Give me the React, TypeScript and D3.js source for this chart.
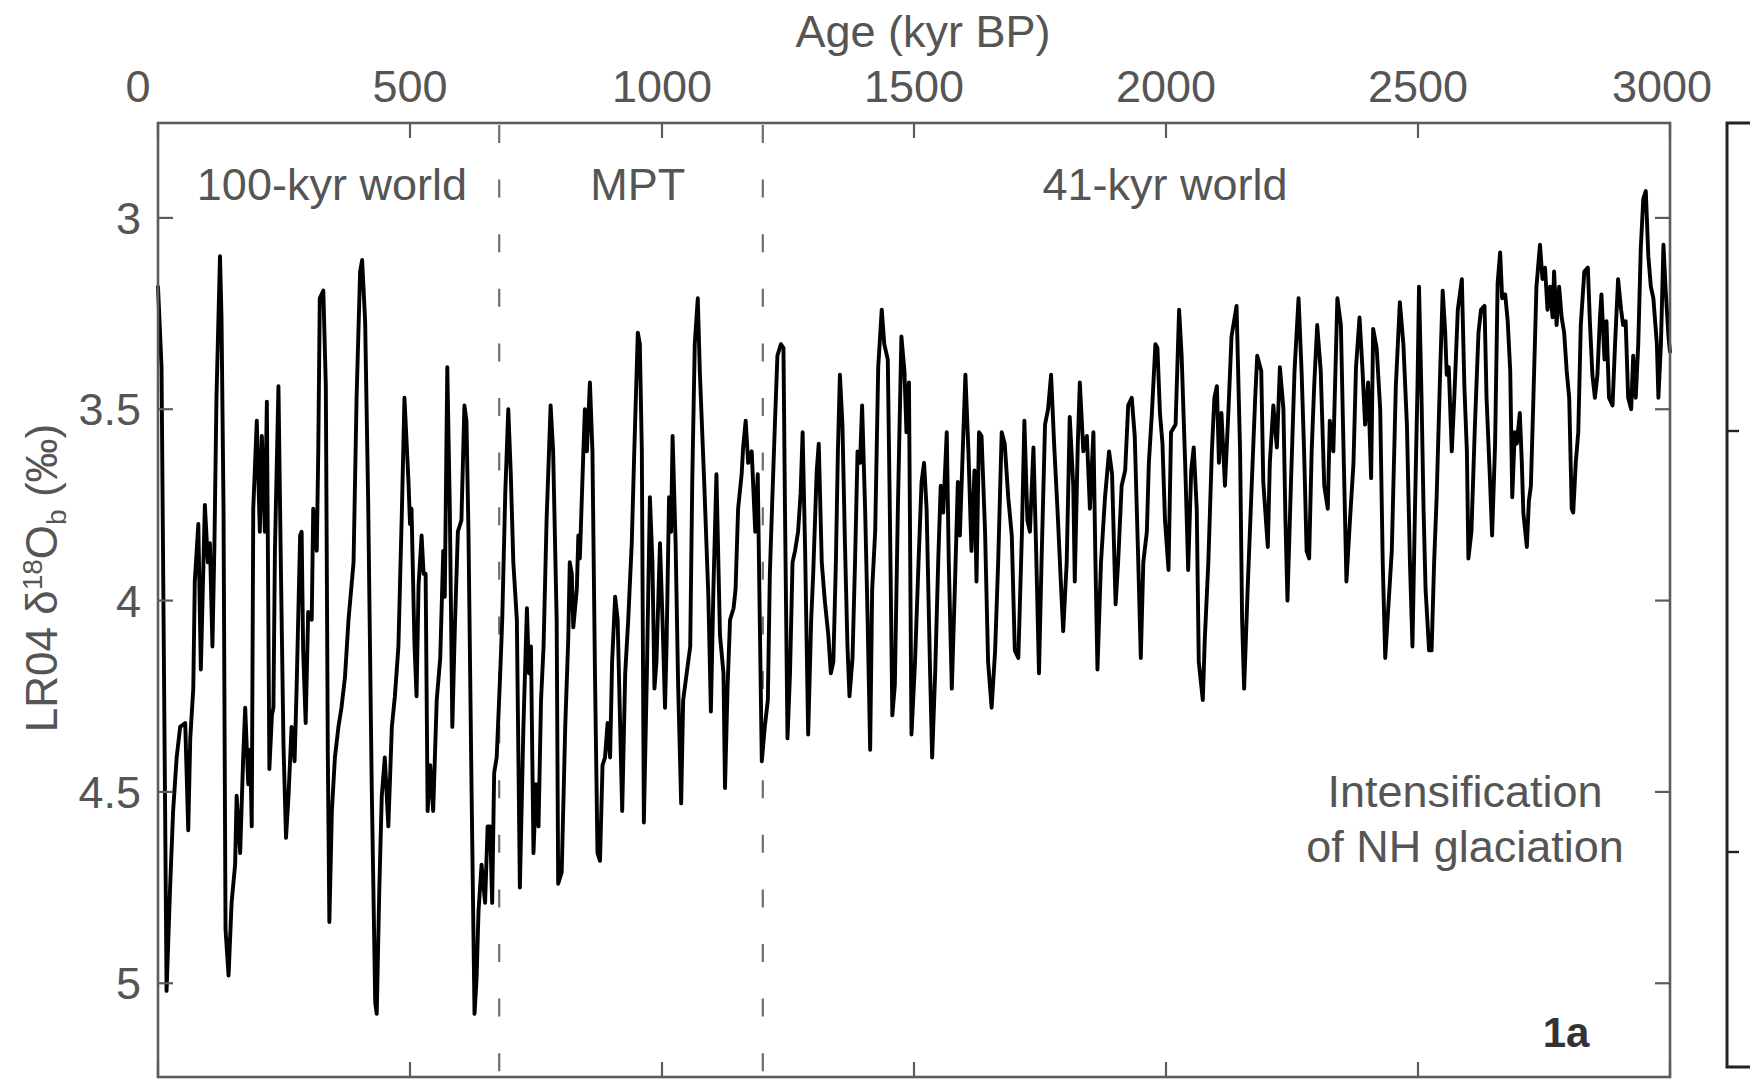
import React from "react";
import * as d3 from "d3";

// ---- Data (age in kyr BP, LR04 benthic δ18O in ‰) ----
const segment100kyr: [number, number][] = [
  [0,3.18],[7,3.39],[17,5.02],[24,4.75],[30,4.55],[37,4.41],[44,4.33],[54,4.32],[60,4.60],[64,4.36],[70,4.23],[73,3.95],[80,3.80],[85,4.18],[93,3.75],[99,3.90],[103,3.85],[108,4.12],[112,3.85],[116,3.47],[123,3.10],[126,3.26],[130,3.76],[134,4.86],[140,4.98],[146,4.79],[153,4.69],[156,4.51],[163,4.66],[169,4.41],[173,4.28],[179,4.48],[183,4.39],[186,4.59],[189,3.76],[196,3.53],[202,3.82],[206,3.57],[212,3.82],[216,3.48],[221,4.44],[226,4.30],[229,4.28],[232,3.87],[239,3.44],[244,3.93],[249,4.38],[254,4.62],[259,4.51],[265,4.33],[271,4.42],[275,4.23],[282,3.83],[285,3.82],[288,4.13],[293,4.32],[298,4.03],[305,4.05],[308,3.76],[315,3.87],[318,3.61],[321,3.21],[328,3.19],[333,3.44],[337,4.41],[340,4.84],[345,4.55],[351,4.41],[358,4.33],[364,4.28],[371,4.20],[378,4.05],[388,3.90],[394,3.47],[401,3.14],[405,3.11],[411,3.27],[417,3.74],[424,4.48],[431,5.05],[434,5.08],[439,4.76],[444,4.51],[450,4.41],[457,4.59],[464,4.33],[470,4.25],[477,4.12],[484,3.76],[489,3.47],[497,3.69],[500,3.80],[503,3.76],[509,4.12],[513,4.25],[517,3.96],[523,3.83],[527,3.93],[531,3.93],[535,4.55],[540,4.43],[546,4.55],[553,4.26],[560,4.15],[566,3.87],[569,3.99],[574,3.39],[579,3.76],[584,4.33],[589,4.07],[595,3.82],[602,3.79],[608,3.49],[612,3.53],[616,3.82],[622,4.48],[628,5.08],[632,4.99],[636,4.81],[642,4.69],[649,4.79],[654,4.59],[659,4.59],[663,4.79],[667,4.45],[672,4.41]
];

const segmentMPT: [number, number][] = [
  [679,4.19],[683,4.05],[689,3.72],[695,3.50],[700,3.67],[705,3.90],[712,4.05],[718,4.75],[725,4.33],[732,4.02],[736,4.19],[740,4.12],[745,4.66],[750,4.48],[755,4.59],[760,4.26],[765,4.12],[771,3.79],[779,3.49],[784,3.61],[791,4.05],[794,4.74],[801,4.71],[808,4.33],[814,4.10],[817,3.90],[821,3.93],[824,4.07],[831,3.97],[834,3.83],[837,3.89],[844,3.61],[847,3.50],[851,3.61],[857,3.43],[862,3.61],[867,4.19],[872,4.66],[877,4.68],[882,4.43],[887,4.41],[892,4.32],[897,4.41],[901,4.16],[907,3.99],[912,4.05],[917,4.33],[921,4.55],[927,4.19],[933,4.05],[940,3.85],[945,3.61],[952,3.30],[956,3.33],[960,3.61],[964,4.58],[970,4.19],[976,3.73],[981,3.90],[985,4.23],[989,4.16],[996,3.85],[1001,4.05],[1006,4.28],[1009,4.12],[1014,3.73],[1018,3.82],[1021,3.57],[1027,3.85],[1032,4.22],[1038,4.53],[1042,4.26],[1049,4.19],[1056,4.12],[1060,3.69],[1065,3.33],[1071,3.21],[1075,3.40],[1084,3.70],[1092,3.99],[1097,4.29],[1102,3.97],[1108,3.67],[1115,4.09],[1122,4.19],[1125,4.49],[1130,4.23],[1135,4.05],[1142,4.02],[1146,3.97],[1151,3.76],[1158,3.67],[1161,3.60],[1166,3.53],[1171,3.64],[1178,3.61],[1185,3.82],[1190,3.67],[1194,4.05],[1198,4.42]
];

const segment41kyr: [number, number][] = [
  [1204,4.33],[1210,4.26],[1214,3.93],[1219,3.73],[1224,3.54],[1229,3.36],[1236,3.33],[1241,3.34],[1244,3.76],[1249,4.36],[1254,4.19],[1259,3.90],[1264,3.87],[1270,3.82],[1275,3.72],[1279,3.56],[1284,3.87],[1290,4.35],[1296,4.05],[1300,3.93],[1307,3.66],[1311,3.59],[1317,3.90],[1323,4.00],[1330,4.09],[1335,4.19],[1340,4.16],[1345,3.90],[1349,3.61],[1353,3.41],[1358,3.54],[1363,3.85],[1368,4.12],[1372,4.25],[1378,4.15],[1383,3.90],[1388,3.61],[1393,3.64],[1397,3.49],[1403,3.76],[1408,4.05],[1413,4.39],[1417,3.97],[1423,3.82],[1429,3.39],[1436,3.24],[1441,3.33],[1448,3.37],[1452,3.76],[1457,4.30],[1462,4.22],[1468,3.76],[1475,3.31],[1481,3.40],[1485,3.56],[1490,3.43],[1495,4.35],
  [1502,4.16],[1509,3.90],[1515,3.69],[1520,3.64],[1525,3.76],[1532,4.19],[1536,4.41],[1542,4.19],[1548,3.90],[1553,3.70],[1558,3.77],[1565,3.56],[1569,3.90],[1575,4.23],[1581,3.97],[1587,3.69],[1591,3.83],[1598,3.56],[1602,3.41],[1608,3.61],[1614,3.87],[1620,3.66],[1624,3.95],[1629,3.56],[1634,3.57],[1641,3.82],[1647,4.16],[1654,4.28],[1661,4.13],[1667,3.90],[1674,3.56],[1680,3.59],[1687,3.73],[1694,3.83],[1700,4.13],[1707,4.15],[1714,3.83],[1719,3.53],[1725,3.79],[1730,3.82],[1737,3.60],[1742,3.85],[1748,4.19],[1753,3.90],[1760,3.54],[1766,3.50],[1772,3.41],[1778,3.59],[1785,3.77],[1792,3.97],[1796,4.08],[1803,3.90],[1809,3.52],[1816,3.70],[1819,3.95],[1825,3.59],[1829,3.43],[1836,3.61],[1843,3.57],[1849,3.76],[1856,3.56],[1860,3.90],[1864,4.18],[1871,3.90],[1879,3.73],[1887,3.61],[1893,3.67],[1900,4.01],[1905,3.90],[1912,3.70],[1919,3.66],[1925,3.49],[1932,3.47],[1938,3.57],[1945,3.90],[1950,4.15],[1955,3.90],[1962,3.82],[1966,3.64],[1972,3.51],[1979,3.33],
  [1983,3.34],[1988,3.51],[1993,3.59],[1998,3.79],[2005,3.92],[2010,3.56],[2019,3.54],[2026,3.24],[2031,3.36],[2038,3.64],[2044,3.92],[2050,3.66],[2055,3.60],[2061,3.76],[2065,4.16],[2073,4.26],[2077,4.10],[2084,3.90],[2091,3.61],[2096,3.47],[2101,3.44],[2105,3.64],[2110,3.51],[2117,3.70],[2124,3.50],[2130,3.31],[2140,3.23],[2147,3.61],[2151,4.05],[2155,4.23],[2162,3.97],[2170,3.70],[2177,3.47],[2181,3.36],[2189,3.40],[2193,3.69],[2202,3.86],[2206,3.64],[2213,3.49],[2220,3.60],[2226,3.39],[2233,3.50],[2237,3.79],[2241,4.00],[2248,3.69],[2255,3.40],[2263,3.21],[2269,3.40],[2274,3.61],[2279,3.87],[2284,3.89],[2289,3.61],[2294,3.44],[2300,3.28],[2307,3.40],[2314,3.70],[2321,3.76],[2325,3.53],[2332,3.61],[2340,3.21],[2347,3.28],[2352,3.59],[2358,3.95],[2365,3.79],[2372,3.64],[2377,3.39],[2384,3.26],[2390,3.40],[2395,3.54],[2401,3.43],[2407,3.68],[2411,3.29],[2418,3.34],[2425,3.50],[2430,3.90],[2435,4.15],[2441,4.02],[2448,3.87],[2456,3.44],[2464,3.22],[2471,3.33],[2478,3.54],[2484,3.90],[2489,4.12],
  [2494,3.76],[2499,3.44],[2502,3.18],[2507,3.47],[2511,3.76],[2515,3.97],[2522,4.13],[2527,4.13],[2532,3.90],[2537,3.73],[2544,3.40],[2549,3.19],[2554,3.30],[2557,3.41],[2561,3.39],[2567,3.61],[2572,3.47],[2579,3.24],[2587,3.16],[2592,3.44],[2597,3.61],[2600,3.89],[2606,3.82],[2613,3.54],[2620,3.30],[2625,3.24],[2632,3.23],[2636,3.47],[2643,3.69],[2647,3.83],[2653,3.59],[2658,3.17],[2663,3.09],[2667,3.21],[2673,3.20],[2678,3.27],[2683,3.40],[2687,3.73],[2692,3.56],[2696,3.59],[2702,3.51],[2706,3.64],[2709,3.77],[2716,3.86],[2720,3.74],[2724,3.70],[2729,3.47],[2735,3.18],[2742,3.07],[2747,3.16],[2752,3.13],[2757,3.24],[2762,3.18],[2767,3.26],[2770,3.14],[2775,3.28],[2780,3.18],[2785,3.26],[2790,3.30],[2795,3.40],[2800,3.47],[2805,3.76],[2808,3.77],[2813,3.64],[2818,3.56],[2823,3.28],[2830,3.14],[2837,3.13],[2841,3.27],[2846,3.41],[2851,3.47],[2856,3.41],[2861,3.26],[2864,3.20],[2870,3.37],[2874,3.27],[2879,3.47],[2886,3.49],[2891,3.33],[2897,3.16],[2903,3.24],[2907,3.28],[2912,3.27],[2917,3.47],[2923,3.50],[2927,3.36],[2932,3.47],[2937,3.33],[2942,3.08],[2947,2.95],[2952,2.93],[2957,3.10],[2962,3.18],[2967,3.21],[2974,3.33],[2977,3.47],[2982,3.33],[2987,3.07],[2991,3.18],[2997,3.31],[3000,3.35]
];

const xTicks = [0, 500, 1000, 1500, 2000, 2500, 3000];
const yTicks = [3, 3.5, 4, 4.5, 5];
const regimeBoundaries = [677, 1200];
const regimeLabels = [
  { text: "100-kyr world", age: 345 },
  { text: "MPT", age: 952 },
  { text: "41-kyr world", age: 1998 },
];
const neighbourTicksY = [431, 852];

const W = 1750;
const H = 1081;
const left = 158, right = 1670, top = 123, bottom = 1077;

export default function App() {
  const x = d3.scaleLinear().domain([0, 3000]).range([left, right]);
  const y = d3.scaleLinear().domain([2.752, 5.245]).range([top, bottom]);
  const series = [...segment100kyr, ...segmentMPT, ...segment41kyr];
  const line = d3
    .line<[number, number]>()
    .x((d) => x(d[0]))
    .y((d) => y(d[1]));

  const font = "'Liberation Sans', Arial, Helvetica, sans-serif";
  const grey = "#555555";
  const axisColor = "#5c5c5c";
  const tickLen = 15;
  const labelDx: Record<number, number> = { 0: -20, 3000: -8 };

  return (
    <svg
      width={W}
      height={H}
      style={{ position: "absolute", left: 0, top: 0, background: "#fff" }}
      fontFamily={font}
    >
      <rect x={0} y={0} width={W} height={H} fill="#fff" />

      {/* regime boundaries */}
      {regimeBoundaries.map((a) => (
        <line
          key={a}
          x1={x(a)}
          x2={x(a)}
          y1={top + 2}
          y2={bottom}
          stroke="#6e6e6e"
          strokeWidth={2.2}
          strokeDasharray="18 36.6"
        />
      ))}

      {/* data line */}
      <path
        d={line(series) || ""}
        fill="none"
        stroke="#000"
        strokeWidth={3.9}
        strokeLinejoin="round"
        strokeLinecap="round"
      />

      {/* axes box */}
      <rect
        x={left}
        y={top}
        width={right - left}
        height={bottom - top}
        fill="none"
        stroke={axisColor}
        strokeWidth={2.6}
      />
      {xTicks.map((t) => (
        <g key={"xt" + t}>
          <line x1={x(t)} x2={x(t)} y1={top} y2={top + tickLen} stroke={axisColor} strokeWidth={2.2} />
          <line x1={x(t)} x2={x(t)} y1={bottom} y2={bottom - tickLen} stroke={axisColor} strokeWidth={2.2} />
          <text
            x={x(t) + (labelDx[t] || 0)}
            y={102}
            textAnchor="middle"
            fontSize={45}
            fill={grey}
          >
            {t}
          </text>
        </g>
      ))}
      {yTicks.map((t) => (
        <g key={"yt" + t}>
          <line x1={left} x2={left + tickLen} y1={y(t)} y2={y(t)} stroke={axisColor} strokeWidth={2.2} />
          <line x1={right} x2={right - tickLen} y1={y(t)} y2={y(t)} stroke={axisColor} strokeWidth={2.2} />
          <text x={141} y={y(t) + 16} textAnchor="end" fontSize={45} fill={grey}>
            {String(t)}
          </text>
        </g>
      ))}

      {/* axis titles */}
      <text x={923} y={47} textAnchor="middle" fontSize={45} fill={grey}>
        Age (kyr BP)
      </text>
      <text
        transform="translate(57,578) rotate(-90)"
        textAnchor="middle"
        fontSize={44}
        fill={grey}
      >
        LR04 δ
        <tspan dy={-15} fontSize={28}>18</tspan>
        <tspan dy={15}>O</tspan>
        <tspan dy={9} fontSize={28}>b</tspan>
        <tspan dy={-9}> (‰)</tspan>
      </text>

      {/* regime labels */}
      {regimeLabels.map((r) => (
        <text key={r.text} x={x(r.age)} y={200} textAnchor="middle" fontSize={45} fill={grey}>
          {r.text}
        </text>
      ))}
      <text x={1465} y={807} textAnchor="middle" fontSize={45} fill={grey}>
        Intensification
      </text>
      <text x={1465} y={862} textAnchor="middle" fontSize={45} fill={grey}>
        of NH glaciation
      </text>
      <text x={1566} y={1047} textAnchor="middle" fontSize={42} fontWeight="bold" fill="#333">
        1a
      </text>

      {/* neighbouring panel edge */}
      <path d="M1760,123 L1727,123 L1727,1067 L1760,1067" fill="none" stroke="#222" strokeWidth={3} />
      {neighbourTicksY.map((ty) => (
        <line key={ty} x1={1727} x2={1739} y1={ty} y2={ty} stroke="#222" strokeWidth={2.4} />
      ))}
    </svg>
  );
}
